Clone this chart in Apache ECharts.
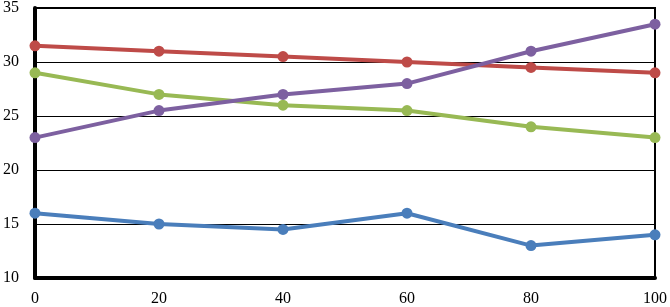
<!DOCTYPE html>
<html><head><meta charset="utf-8">
<script src="https://cdn.jsdelivr.net/npm/echarts@6/dist/echarts.min.js"></script>
<style>html,body{margin:0;padding:0;background:#fff}#c{width:670px;height:307px}</style>
</head><body><div id="c"></div>
<script>
const xValues = [0, 20, 40, 60, 80, 100];
const blue = [16, 15, 14.5, 16, 13, 14];
const red = [31.5, 31, 30.5, 30, 29.5, 29];
const green = [29, 27, 26, 25.5, 24, 23];
const purple = [23, 25.5, 27, 28, 31, 33.5];
const colors = ['#4A7EBB', '#BE4B48', '#98B954', '#7D60A0'];

function pairs(arr){ return xValues.map((x,i)=>[x, arr[i]]); }
const chart = echarts.init(document.getElementById('c'));
const mk = (d,c)=>({type:'line', data:pairs(d), symbol:'circle', symbolSize:11,
  lineStyle:{width:4,color:c}, itemStyle:{color:c}, animation:false});
chart.setOption({
  animation:false,
  grid:{left:35,right:13,top:7,bottom:29,show:true,borderColor:'#000',borderWidth:2,backgroundColor:'transparent'},
  xAxis:{type:'value',min:0,max:100,interval:20,
    axisLine:{show:true,onZero:false,lineStyle:{color:'#000',width:4}},
    axisTick:{show:false},splitLine:{show:false},
    axisLabel:{color:'#000',fontFamily:'Liberation Serif',fontSize:16,margin:13}},
  yAxis:{type:'value',min:10,max:35,interval:5,
    axisLine:{show:true,lineStyle:{color:'#000',width:4}},
    axisTick:{show:false},
    splitLine:{show:true,lineStyle:{color:'#000',width:1}},
    axisLabel:{color:'#000',fontFamily:'Liberation Serif',fontSize:16,margin:16}},
  series:[mk(blue,colors[0]),mk(red,colors[1]),mk(green,colors[2]),mk(purple,colors[3])]
});
</script></body></html>
